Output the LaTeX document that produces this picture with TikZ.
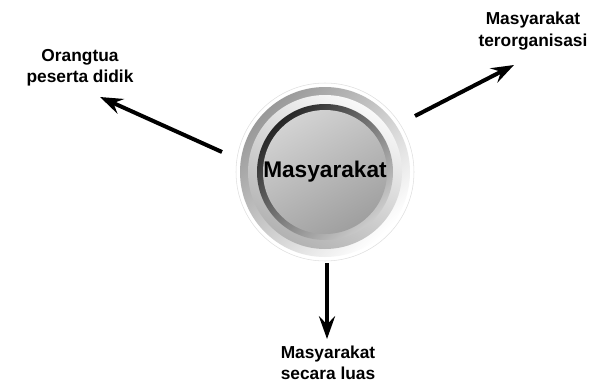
\documentclass[tikz,border=0pt]{standalone}
\usepackage{fontspec}
\setmainfont{Liberation Sans}
\usetikzlibrary{arrows.meta}

\tikzset{
  lbl/.style={align=center,font=\fontsize{13}{16}\selectfont\bfseries},
  panah/.style={line width=3pt,-{Stealth[length=17pt,width=12pt,inset=6pt]}}
}

\begin{document}
\begin{tikzpicture}[x=0.75pt,y=-0.75pt]
\useasboundingbox (0,0) rectangle (600,382);
% lingkaran
\draw[gray!25,fill=white] (325,172) circle (89);
\shade[top color=gray!80,bottom color=white,shading angle=45] (325,172) circle (85);
\shade[top color=gray!5,bottom color=gray!60,shading angle=-30] (325,172) circle (77);
\shade[top color=black!85,bottom color=gray!40,shading angle=45] (325,172) circle (68);
\shade[top color=gray!35,bottom color=gray!75,shading angle=30] (325,172) circle (62);
\node[font=\fontsize{17}{20}\selectfont\bfseries] (pusat) at (325,172) {Masyarakat};
% label
\node[lbl] (ortu) at (80,68) {Orangtua\\peserta didik};
\node[lbl] (organ) at (533,31) {Masyarakat\\terorganisasi};
\node[lbl] (luas) at (328,363) {Masyarakat\\secara luas};
% panah
\coordinate (a1) at (222,152); \coordinate (b1) at (100,97);
\coordinate (a2) at (415,116); \coordinate (b2) at (514,65);
\coordinate (a3) at (327,263); \coordinate (b3) at (327,339);
\foreach \i in {1,2,3} {\draw[panah] (a\i)--(b\i);}
\end{tikzpicture}
\end{document}
